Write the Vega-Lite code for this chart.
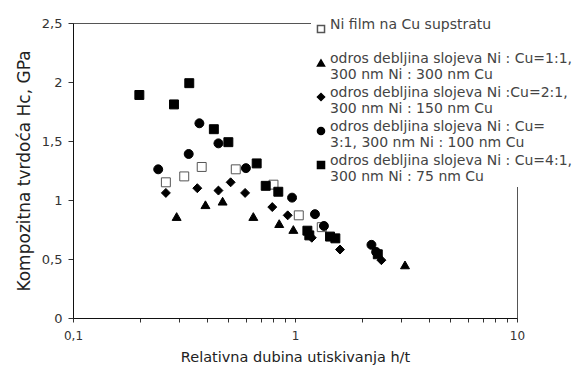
{
  "$schema": "https://vega.github.io/schema/vega-lite/v6.json",
  "width": 444,
  "height": 295,
  "autosize": {"type": "none"},
  "padding": {"left": 73, "top": 23, "right": 58, "bottom": 53},
  "background": "white",
  "config": {
    "font": "DejaVu Sans",
    "view": {"stroke": "#555", "strokeWidth": 1},
    "axis": {"grid": false, "domainColor": "#111", "tickColor": "#333", "labelColor": "#333", "titleColor": "#222", "labelFont": "DejaVu Sans", "titleFont": "DejaVu Sans"}
  },
  "data": {
    "values": [
      {"series": "Ni film na Cu supstratu|", "h": 0.262, "hc": 1.15},
      {"series": "Ni film na Cu supstratu|", "h": 0.317, "hc": 1.2},
      {"series": "Ni film na Cu supstratu|", "h": 0.38, "hc": 1.28},
      {"series": "Ni film na Cu supstratu|", "h": 0.541, "hc": 1.26},
      {"series": "Ni film na Cu supstratu|", "h": 0.80, "hc": 1.13},
      {"series": "Ni film na Cu supstratu|", "h": 1.04, "hc": 0.87},
      {"series": "Ni film na Cu supstratu|", "h": 1.32, "hc": 0.77},
      {"series": "odros debljina slojeva Ni : Cu=1:1,| 300 nm Ni : 300 nm Cu", "h": 0.293, "hc": 0.86},
      {"series": "odros debljina slojeva Ni : Cu=1:1,| 300 nm Ni : 300 nm Cu", "h": 0.395, "hc": 0.96},
      {"series": "odros debljina slojeva Ni : Cu=1:1,| 300 nm Ni : 300 nm Cu", "h": 0.472, "hc": 0.99},
      {"series": "odros debljina slojeva Ni : Cu=1:1,| 300 nm Ni : 300 nm Cu", "h": 0.649, "hc": 0.86},
      {"series": "odros debljina slojeva Ni : Cu=1:1,| 300 nm Ni : 300 nm Cu", "h": 0.849, "hc": 0.80},
      {"series": "odros debljina slojeva Ni : Cu=1:1,| 300 nm Ni : 300 nm Cu", "h": 0.983, "hc": 0.75},
      {"series": "odros debljina slojeva Ni : Cu=1:1,| 300 nm Ni : 300 nm Cu", "h": 3.13, "hc": 0.45},
      {"series": "odros debljina slojeva Ni :Cu=2:1,| 300 nm Ni : 150 nm Cu", "h": 0.262, "hc": 1.06},
      {"series": "odros debljina slojeva Ni :Cu=2:1,| 300 nm Ni : 150 nm Cu", "h": 0.363, "hc": 1.10},
      {"series": "odros debljina slojeva Ni :Cu=2:1,| 300 nm Ni : 150 nm Cu", "h": 0.452, "hc": 1.08},
      {"series": "odros debljina slojeva Ni :Cu=2:1,| 300 nm Ni : 150 nm Cu", "h": 0.513, "hc": 1.15},
      {"series": "odros debljina slojeva Ni :Cu=2:1,| 300 nm Ni : 150 nm Cu", "h": 0.596, "hc": 1.06},
      {"series": "odros debljina slojeva Ni :Cu=2:1,| 300 nm Ni : 150 nm Cu", "h": 0.79, "hc": 0.94},
      {"series": "odros debljina slojeva Ni :Cu=2:1,| 300 nm Ni : 150 nm Cu", "h": 0.927, "hc": 0.87},
      {"series": "odros debljina slojeva Ni :Cu=2:1,| 300 nm Ni : 150 nm Cu", "h": 1.19, "hc": 0.68},
      {"series": "odros debljina slojeva Ni :Cu=2:1,| 300 nm Ni : 150 nm Cu", "h": 1.595, "hc": 0.58},
      {"series": "odros debljina slojeva Ni :Cu=2:1,| 300 nm Ni : 150 nm Cu", "h": 2.45, "hc": 0.49},
      {"series": "odros debljina slojeva Ni : Cu=| 3:1, 300 nm Ni : 100 nm Cu", "h": 0.242, "hc": 1.26},
      {"series": "odros debljina slojeva Ni : Cu=| 3:1, 300 nm Ni : 100 nm Cu", "h": 0.332, "hc": 1.39},
      {"series": "odros debljina slojeva Ni : Cu=| 3:1, 300 nm Ni : 100 nm Cu", "h": 0.371, "hc": 1.65},
      {"series": "odros debljina slojeva Ni : Cu=| 3:1, 300 nm Ni : 100 nm Cu", "h": 0.452, "hc": 1.48},
      {"series": "odros debljina slojeva Ni : Cu=| 3:1, 300 nm Ni : 100 nm Cu", "h": 0.601, "hc": 1.27},
      {"series": "odros debljina slojeva Ni : Cu=| 3:1, 300 nm Ni : 100 nm Cu", "h": 0.97, "hc": 1.02},
      {"series": "odros debljina slojeva Ni : Cu=| 3:1, 300 nm Ni : 100 nm Cu", "h": 1.23, "hc": 0.88},
      {"series": "odros debljina slojeva Ni : Cu=| 3:1, 300 nm Ni : 100 nm Cu", "h": 1.35, "hc": 0.78},
      {"series": "odros debljina slojeva Ni : Cu=| 3:1, 300 nm Ni : 100 nm Cu", "h": 2.21, "hc": 0.62},
      {"series": "odros debljina slojeva Ni : Cu=| 3:1, 300 nm Ni : 100 nm Cu", "h": 2.32, "hc": 0.56},
      {"series": "odros debljina slojeva Ni : Cu=4:1,| 300 nm Ni : 75 nm Cu", "h": 0.199, "hc": 1.89},
      {"series": "odros debljina slojeva Ni : Cu=4:1,| 300 nm Ni : 75 nm Cu", "h": 0.285, "hc": 1.81},
      {"series": "odros debljina slojeva Ni : Cu=4:1,| 300 nm Ni : 75 nm Cu", "h": 0.334, "hc": 1.99},
      {"series": "odros debljina slojeva Ni : Cu=4:1,| 300 nm Ni : 75 nm Cu", "h": 0.431, "hc": 1.60},
      {"series": "odros debljina slojeva Ni : Cu=4:1,| 300 nm Ni : 75 nm Cu", "h": 0.501, "hc": 1.49},
      {"series": "odros debljina slojeva Ni : Cu=4:1,| 300 nm Ni : 75 nm Cu", "h": 0.672, "hc": 1.31},
      {"series": "odros debljina slojeva Ni : Cu=4:1,| 300 nm Ni : 75 nm Cu", "h": 0.738, "hc": 1.12},
      {"series": "odros debljina slojeva Ni : Cu=4:1,| 300 nm Ni : 75 nm Cu", "h": 0.841, "hc": 1.07},
      {"series": "odros debljina slojeva Ni : Cu=4:1,| 300 nm Ni : 75 nm Cu", "h": 1.137, "hc": 0.74},
      {"series": "odros debljina slojeva Ni : Cu=4:1,| 300 nm Ni : 75 nm Cu", "h": 1.16, "hc": 0.70},
      {"series": "odros debljina slojeva Ni : Cu=4:1,| 300 nm Ni : 75 nm Cu", "h": 1.438, "hc": 0.69},
      {"series": "odros debljina slojeva Ni : Cu=4:1,| 300 nm Ni : 75 nm Cu", "h": 1.52, "hc": 0.675},
      {"series": "odros debljina slojeva Ni : Cu=4:1,| 300 nm Ni : 75 nm Cu", "h": 2.36, "hc": 0.54}
    ]
  },
  "mark": {"type": "point", "filled": true, "size": 80, "strokeWidth": 1, "opacity": 1},
  "encoding": {
    "x": {
      "field": "h", "type": "quantitative",
      "scale": {"type": "log", "domain": [0.1, 10]},
      "axis": {
        "title": "Relativna dubina utiskivanja h/t",
        "titleFontSize": 14.5, "titleFontWeight": "normal", "titlePadding": 9,
        "values": [0.1, 0.2, 0.3, 0.4, 0.5, 0.6, 0.7, 0.8, 0.9, 1, 2, 3, 4, 5, 6, 7, 8, 9, 10],
        "format": ".1~f",
        "labelExpr": "datum.value < 0.15 ? '0,1' : (abs(datum.value - 1) < 0.01 || abs(datum.value - 10) < 0.01) ? datum.label : ''",
        "labelFontSize": 12, "labelPadding": 8, "labelOverlap": false, "labelFlush": false,
        "tickSize": 4
      }
    },
    "y": {
      "field": "hc", "type": "quantitative",
      "scale": {"domain": [0, 2.5]},
      "axis": {
        "title": "Kompozitna tvrdoća Hc, GPa",
        "titleFontSize": 17, "titleFontWeight": "normal", "titlePadding": 8,
        "values": [0, 0.5, 1, 1.5, 2, 2.5],
        "format": ".1~f",
        "labelExpr": "replace(datum.label, '.', ',')",
        "labelFontSize": 13, "labelPadding": 6, "tickSize": 5
      }
    },
    "shape": {
      "field": "series", "type": "nominal",
      "scale": {
        "domain": ["Ni film na Cu supstratu|", "odros debljina slojeva Ni : Cu=1:1,| 300 nm Ni : 300 nm Cu", "odros debljina slojeva Ni :Cu=2:1,| 300 nm Ni : 150 nm Cu", "odros debljina slojeva Ni : Cu=| 3:1, 300 nm Ni : 100 nm Cu", "odros debljina slojeva Ni : Cu=4:1,| 300 nm Ni : 75 nm Cu"],
        "range": ["square", "triangle-up", "diamond", "circle", "square"]
      },
      "legend": {
        "title": null, "orient": "none", "legendX": 238, "legendY": -4,
        "fillColor": "white", "padding": 3,
        "labelExpr": "split(datum.label, '|')",
        "labelFont": "DejaVu Sans",
        "labelFontSize": 14, "labelColor": "#444", "labelBaseline": "alphabetic",
        "labelLimit": 400, "labelOffset": 2, "symbolSize": 50, "rowPadding": 4,
        "encode": {"labels": {"lineHeight": {"value": 17}}}
      }
    },
    "fill": {
      "field": "series", "type": "nominal",
      "scale": {
        "domain": ["Ni film na Cu supstratu|", "odros debljina slojeva Ni : Cu=1:1,| 300 nm Ni : 300 nm Cu", "odros debljina slojeva Ni :Cu=2:1,| 300 nm Ni : 150 nm Cu", "odros debljina slojeva Ni : Cu=| 3:1, 300 nm Ni : 100 nm Cu", "odros debljina slojeva Ni : Cu=4:1,| 300 nm Ni : 75 nm Cu"],
        "range": ["white", "black", "black", "black", "black"]
      }
    },
    "stroke": {
      "field": "series", "type": "nominal",
      "scale": {
        "domain": ["Ni film na Cu supstratu|", "odros debljina slojeva Ni : Cu=1:1,| 300 nm Ni : 300 nm Cu", "odros debljina slojeva Ni :Cu=2:1,| 300 nm Ni : 150 nm Cu", "odros debljina slojeva Ni : Cu=| 3:1, 300 nm Ni : 100 nm Cu", "odros debljina slojeva Ni : Cu=4:1,| 300 nm Ni : 75 nm Cu"],
        "range": ["#555", "black", "black", "black", "black"]
      }
    }
  }
}
